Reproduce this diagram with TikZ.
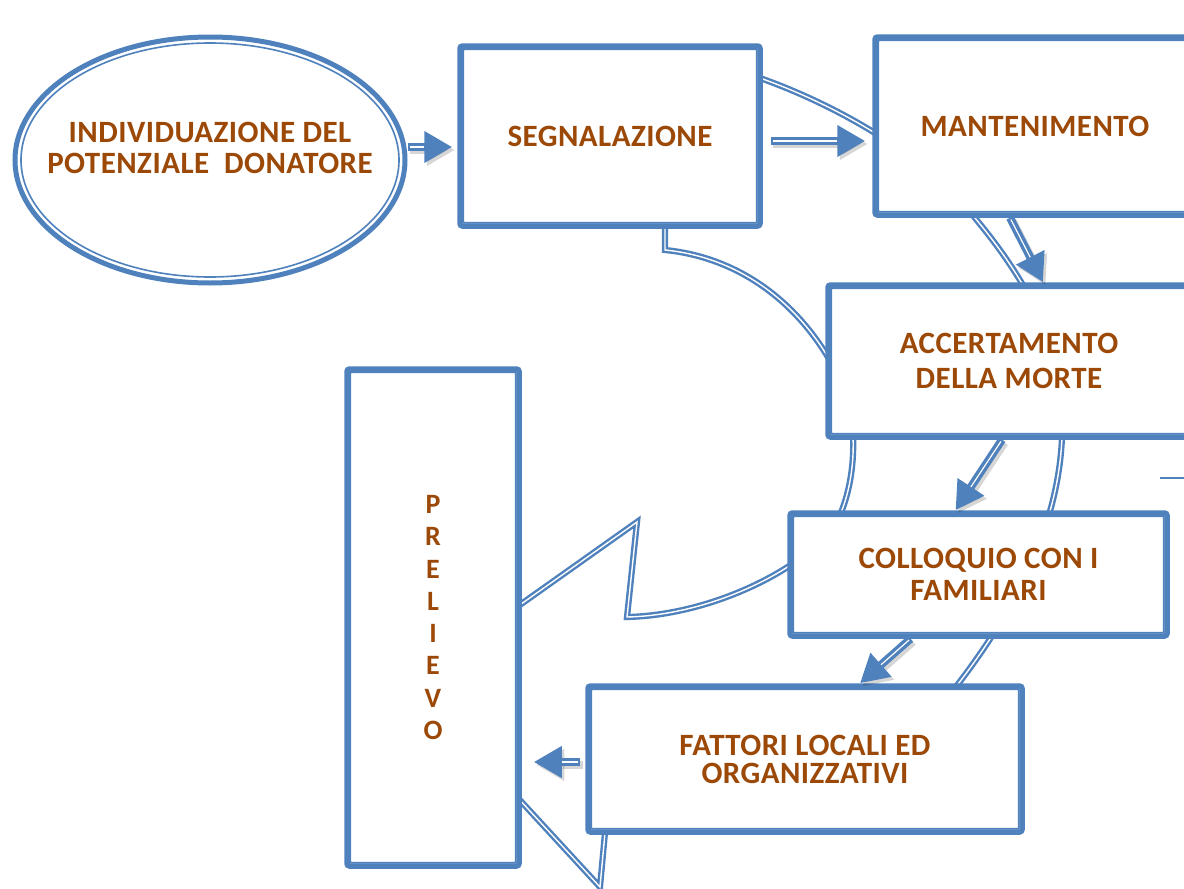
\documentclass[tikz,border=0pt]{standalone}
\usepackage{fontspec}
\newfontfamily\cf[LetterSpace=1.5]{Carlito}
\usetikzlibrary{shapes.geometric,arrows.meta,calc}
\definecolor{obl}{RGB}{79,129,189}
\definecolor{otx}{RGB}{156,73,8}
\newcommand\inbox[1]{\draw[inl,rounded corners=1pt] ([shift={(6pt,6pt)}]#1.south west) rectangle ([shift={(-6pt,-6pt)}]#1.north east);}
\newcommand\barr[4]{\draw[barrow,draw=black,opacity=0.16,shorten >=#3,transform canvas={shift={(2.5pt,-3pt)}}] #1 -- #2; \draw[barrow,shorten >=#3] #1 -- #2; \draw[bline,shorten >=#4,shorten <=2pt] #1 -- #2;}
\begin{document}
\begin{tikzpicture}[x=1pt,y=-1pt,
 box/.style={rectangle,draw=obl,line width=5.5pt,fill=white,rounded corners=2.5pt,inner sep=0pt},
 inl/.style={draw=obl,line width=1.6pt},
 lbl/.style={text=otx,font=\cf\bfseries\fontsize{31}{31}\selectfont,align=center},
 outl/.style={draw=obl,line width=2.4pt,double=white,double distance=1.4pt,line join=miter},
 barrow/.style={draw=obl,line width=8pt,-{Triangle[length=28pt,width=30pt]}},
 bline/.style={draw=white,line width=1.2pt}]
\useasboundingbox (0,0) rectangle (1184,889);
% big curved arrow outline
\draw[outl] (665,66) -- (665,250)
 .. controls (745,258) and (810,310) .. (845,390)
 .. controls (858,430) and (855,480) .. (840,515)
 .. controls (820,560) and (720,615) .. (627,617)
 -- (637,522) -- (411,682) -- (600,887) -- (608,800)
 .. controls (760,805) and (900,760) .. (955,688)
 .. controls (1000,630) and (1058,540) .. (1062,437)
 .. controls (1068,360) and (1035,290) .. (975,218)
 .. controls (935,165) and (850,110) .. (760,78)
 .. controls (730,68) and (700,66) .. (665,66) -- cycle;
% ellipse
\node[ellipse,draw=obl,line width=5pt,fill=white,minimum width=390,minimum height=246,inner sep=0pt] (ell) at (210,160) {};
\draw[inl] (ell.center) ellipse [x radius=189pt, y radius=117pt];
\node[lbl] (ellt) at (210,148) {INDIVIDUAZIONE DEL\\POTENZIALE~~DONATORE};
% boxes
\node[box,lbl,minimum width=300,minimum height=180] (seg) at (610,136) {SEGNALAZIONE};
\inbox{seg}
\node[box,lbl,minimum width=320,minimum height=178] (man) at (1035,126) {MANTENIMENTO};
\inbox{man}
\node[box,lbl,font=\cf\bfseries\fontsize{31}{35}\selectfont,minimum width=362,minimum height=152] (acc) at (1009,361) {ACCERTAMENTO\\DELLA MORTE};
\inbox{acc}
\node[box,lbl,font=\cf\bfseries\fontsize{31}{32}\selectfont,minimum width=377,minimum height=123] (col) at (978.5,574.5) {COLLOQUIO CON I\\FAMILIARI};
\inbox{col}
\node[box,lbl,font=\cf\bfseries\fontsize{31}{28}\selectfont,minimum width=434,minimum height=146] (fat) at (805,759) {FATTORI LOCALI ED\\ORGANIZZATIVI};
\inbox{fat}
\node[box,lbl,font=\cf\bfseries\fontsize{28}{32.3}\selectfont,minimum width=172,minimum height=497] (pre) at (433,617.5) {P\\R\\E\\L\\I\\E\\V\\O};
\inbox{pre}
% block arrows
\barr{([yshift=13pt]ell.east)}{([yshift=13pt]ell.east -| seg.west)}{5pt}{33pt}
\barr{([yshift=-5pt,xshift=8pt]seg.east)}{([yshift=-5pt]seg.east -| man.west)}{7pt}{35pt}
\barr{([xshift=-25pt]man.south)}{([xshift=34pt]acc.north)}{0pt}{28pt}
\barr{([xshift=-7pt]acc.south)}{([xshift=-23pt]col.north)}{0pt}{28pt}
\barr{([xshift=-68pt]col.south)}{([xshift=55pt]fat.north)}{0pt}{28pt}
\barr{([yshift=-3pt,xshift=-5pt]fat.west)}{([yshift=-3pt]fat.west -| pre.east)}{12pt}{40pt}
% stray line
\coordinate (s1) at (1160,478);
\coordinate (s2) at (1184,478);
\draw[obl,line width=2.2pt] (s1) -- (s2);
\end{tikzpicture}
\end{document}
